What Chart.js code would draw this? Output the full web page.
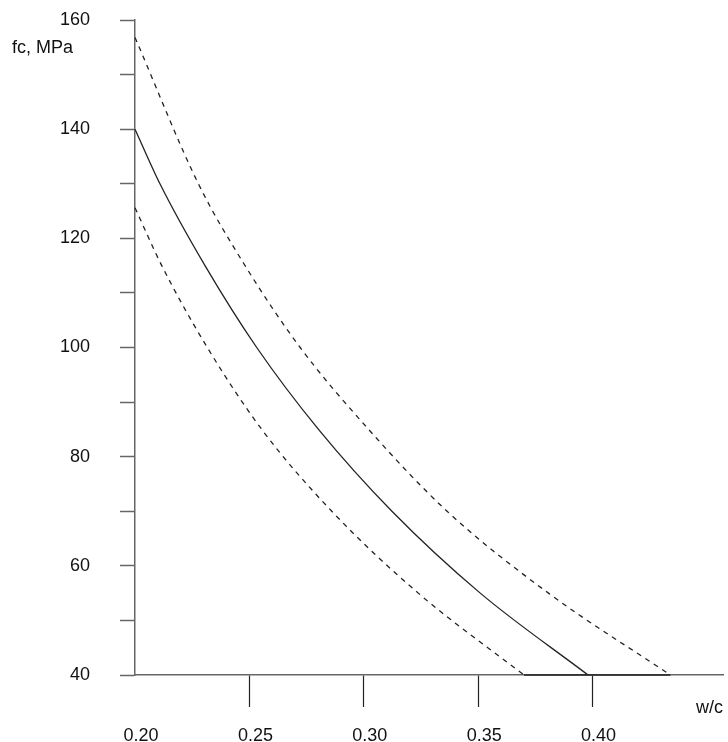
<!DOCTYPE html>
<html>
<head>
<meta charset="utf-8">
<script src="https://cdn.jsdelivr.net/npm/chart.js@4/dist/chart.umd.min.js"></script>
<style>
  html, body { margin: 0; padding: 0; background: #fff; }
</style>
</head>
<body>
<canvas id="c" width="728" height="742"></canvas>
<script>
// tick labels on the w/c axis
const xTicks = [0.20, 0.25, 0.30, 0.35, 0.40]

// mean curve (solid)
const midW = [0.200, 0.2109, 0.2306, 0.2532, 0.2802, 0.3123, 0.3509, 0.398]
const midF = [140, 130, 115, 100, 85, 70, 55, 40]

// upper bound (dashed)
const upW = [0.200, 0.2277, 0.2481, 0.2722, 0.3021, 0.3364, 0.3807, 0.434]
const upF = [156.8, 130, 115, 100, 85, 70, 55, 40]

// lower bound (dashed)
const lowW = [0.200, 0.2117, 0.2316, 0.2554, 0.2860, 0.3238, 0.370]
const lowF = [125.6, 115, 100, 85, 70, 55, 40]

// flat part along fc = 40
const floorW = [0.370, 0.434]
const floorF = [40, 40]

const FONT = "'Liberation Sans', Arial, sans-serif"
const pts = (xs, ys) => xs.map((x, i) => ({x: x, y: ys[i]}))

function line(data, dashed) {
    return {
        data: data,
        showLine: true,
        borderColor: "#222",
        borderWidth: 1.3,
        borderDash: dashed ? [5, 5] : [],
        pointRadius: 0,
        cubicInterpolationMode: "monotone",
        fill: false,
        clip: false
    }
}

const axisLabels = {
    id: "axisLabels",
    afterDraw(chart) {
        const ctx = chart.ctx
        ctx.save()
        ctx.fillStyle = "#111"
        ctx.font = "18px " + FONT
        ctx.textBaseline = "middle"
        ctx.textAlign = "left"
        ctx.fillText("fc, MPa", 12, 48)
        ctx.fillText("w/c", 696, 708)
        ctx.restore()
    }
}

new Chart(document.getElementById("c"), {
    type: "scatter",
    data: {
        datasets: [
            line(pts(upW, upF), true),
            line(pts(midW, midF), false),
            line(pts(lowW, lowF), true),
            line(pts(floorW, floorF), false)
        ]
    },
    options: {
        responsive: false,
        animation: false,
        layout: {padding: {left: 0, top: 0, right: 5, bottom: 0}},
        plugins: {legend: {display: false}, tooltip: {enabled: false}},
        scales: {
            x: {
                type: "linear",
                min: 0.20,
                max: 0.457,
                afterBuildTicks: s => { s.ticks = xTicks.map(v => ({value: v})) },
                afterFit: s => { s.height = 67; s.paddingLeft = 0; s.paddingRight = 0 },
                border: {display: true, color: "#666", width: 1.5},
                grid: {
                    drawOnChartArea: false,
                    drawTicks: true,
                    tickLength: 32,
                    tickWidth: 1.2,
                    tickColor: c => c.tick && c.tick.value === 0.20 ? "rgba(0,0,0,0)" : "#222"
                },
                ticks: {
                    color: "#111",
                    font: {family: FONT, size: 18},
                    padding: 18,
                    labelOffset: 6,
                    maxRotation: 0,
                    callback: v => Number(v).toFixed(2)
                }
            },
            y: {
                type: "linear",
                min: 40,
                max: 160,
                afterFit: s => { s.width = 135; s.paddingTop = 20; s.paddingBottom = 0 },
                border: {display: true, color: "#666", width: 1.5},
                grid: {
                    drawOnChartArea: false,
                    drawTicks: true,
                    tickLength: 15,
                    tickWidth: 1.5,
                    tickColor: "#666"
                },
                ticks: {
                    stepSize: 10,
                    color: "#111",
                    font: {family: FONT, size: 18},
                    padding: 30,
                    callback: v => v % 20 === 0 ? String(v) : ""
                }
            }
        }
    },
    plugins: [axisLabels]
})
</script>
</body>
</html>
